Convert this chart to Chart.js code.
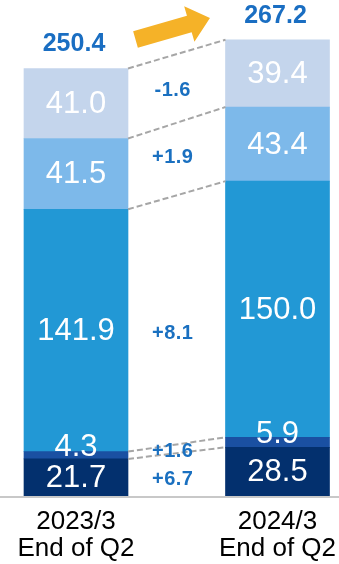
<!DOCTYPE html>
<html>
<head>
<meta charset="utf-8">
<script src="https://cdn.jsdelivr.net/npm/chart.js@4.4.1/dist/chart.umd.min.js"></script>
<style>
  html, body { margin: 0; padding: 0; background: #fff; }
  #wrap { width: 339px; height: 564px; position: relative; }
</style>
</head>
<body>
<div id="wrap"><canvas id="c"></canvas></div>
<script>
// data, bottom segment first
const periods = [["2023/3", "End of Q2"], ["2024/3", "End of Q2"]];
const segA = [21.7, 28.5];
const segB = [4.3, 5.9];
const segC = [141.9, 150.0];
const segD = [41.5, 43.4];
const segE = [41.0, 39.4];
const totals = ["250.4", "267.2"];
const changes = ["+6.7", "+1.6", "+8.1", "+1.9", "-1.6"];

const colors = ["#03306e", "#1a50a2", "#2298d5", "#7db9ea", "#c4d5ec"];
const series = [segA, segB, segC, segD, segE];

// =========================
// overlay drawing
// =========================
const overlay = {
    id: "overlay",
    afterDatasetsDraw(chart) {
        const ctx = chart.ctx;
        const y = chart.scales.y;
        ctx.save();

        // base line
        ctx.strokeStyle = "#c8c8c8";
        ctx.lineWidth = 2;
        ctx.beginPath();
        ctx.moveTo(0, y.getPixelForValue(0) + 1);
        ctx.lineTo(chart.width, y.getPixelForValue(0) + 1);
        ctx.stroke();

        // dashed connectors between segment tops
        let tops = [];
        series.forEach((s, i) => {
            let meta = chart.getDatasetMeta(i);
            let l = meta.data[0], r = meta.data[1];
            tops.push({
                x1: l.x + l.width / 2, y1: l.y,
                x2: r.x - r.width / 2, y2: r.y
            });
        });
        ctx.strokeStyle = "#a6a6a6";
        ctx.lineWidth = 2;
        ctx.setLineDash([6, 3]);
        tops.forEach(t => {
            ctx.beginPath();
            ctx.moveTo(t.x1, t.y1);
            ctx.lineTo(t.x2, t.y2);
            ctx.stroke();
        });
        ctx.setLineDash([]);

        // values inside bars
        ctx.fillStyle = "#fff";
        ctx.font = "31px 'Liberation Sans', Arial, sans-serif";
        ctx.textAlign = "center";
        ctx.textBaseline = "middle";
        series.forEach((s, i) => {
            let meta = chart.getDatasetMeta(i);
            meta.data.forEach((bar, j) => {
                let mid = (bar.y + bar.base) / 2;
                if (s[j] < 10) mid -= 9;
                ctx.fillText(s[j].toFixed(1), bar.x, mid + 1);
            });
        });

        // change labels between bars
        const nudge = [5, 3, 14, -2, 2];
        ctx.fillStyle = "#1a70c0";
        ctx.font = "bold 20px 'Liberation Sans', Arial, sans-serif";
        ctx.letterSpacing = "0.5px";
        let base = chart.getDatasetMeta(0).data;
        let midX = (tops[0].x1 + tops[0].x2) / 2;
        let lowL = base[0].base, lowR = base[1].base;
        changes.forEach((c, i) => {
            let t = tops[i];
            let upper = (t.y1 + t.y2) / 2;
            let lower = i === 0 ? (lowL + lowR) / 2 : (tops[i - 1].y1 + tops[i - 1].y2) / 2;
            ctx.fillText(c, midX - 4, (upper + lower) / 2 + nudge[i]);
        });
        ctx.letterSpacing = "0px";

        // totals
        ctx.fillStyle = "#1a6ec2";
        ctx.font = "bold 25px 'Liberation Sans', Arial, sans-serif";
        let topMeta = chart.getDatasetMeta(series.length - 1).data;
        topMeta.forEach((bar, j) => {
            ctx.fillText(totals[j], bar.x - 2, bar.y - 24);
        });

        // orange arrow
        ctx.translate(135.5, 39.5);
        ctx.rotate(Math.atan2(-21.5, 74.5));
        ctx.fillStyle = "#f5b228";
        ctx.beginPath();
        ctx.moveTo(0, -8.5);
        ctx.lineTo(56, -8.5);
        ctx.lineTo(56, -18.5);
        ctx.lineTo(77.5, 0);
        ctx.lineTo(56, 18.5);
        ctx.lineTo(56, 8.5);
        ctx.lineTo(0, 8.5);
        ctx.closePath();
        ctx.fill();

        ctx.restore();
    }
};

new Chart(document.getElementById("c"), {
    type: "bar",
    data: {
        labels: periods,
        datasets: series.map((s, i) => ({
            data: s,
            backgroundColor: colors[i],
            borderWidth: 0,
            barThickness: 104,
            clip: false
        }))
    },
    options: {
        responsive: true,
        maintainAspectRatio: false,
        animation: false,
        layout: { padding: { left: 76, right: 61.5, top: 0, bottom: 0 } },
        plugins: {
            legend: { display: false },
            tooltip: { enabled: false }
        },
        scales: {
            x: {
                stacked: true,
                offset: false,
                grid: { display: false, drawTicks: false },
                border: { display: false },
                ticks: {
                    color: "#000",
                    padding: 12,
                    maxRotation: 0,
                    autoSkip: false,
                    font: { family: "'Liberation Sans', Arial, sans-serif", size: 26, lineHeight: 1.05 }
                },
                afterFit(scale) {
                    scale.height = 68;
                    scale.paddingLeft = 0;
                    scale.paddingRight = 0;
                }
            },
            y: {
                stacked: true,
                display: false,
                min: 0,
                max: 290.5
            }
        }
    },
    plugins: [overlay]
});
</script>
</body>
</html>
